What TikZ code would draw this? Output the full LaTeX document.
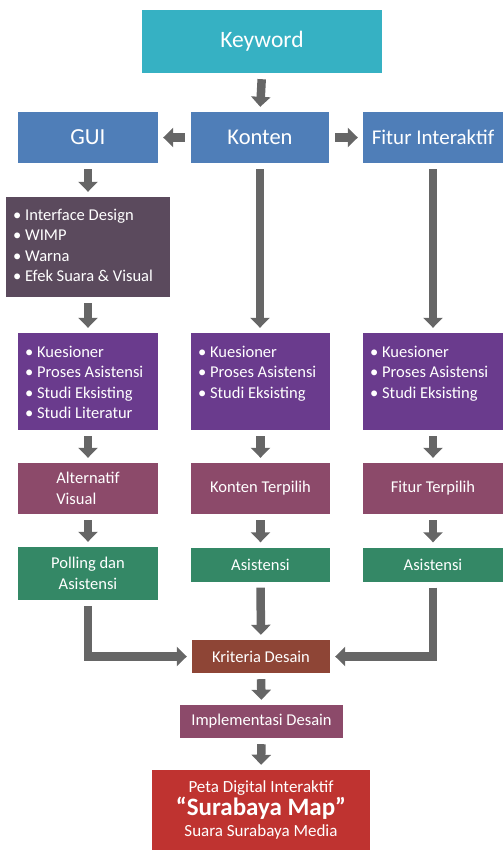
\documentclass[tikz,border=0pt]{standalone}
\usepackage{fontspec}
\setmainfont{Carlito}
\usetikzlibrary{arrows.meta,positioning}
\definecolor{cteal}{HTML}{36B1C3}
\definecolor{cblue}{HTML}{4F7EB8}
\definecolor{cdark}{HTML}{5B4A5D}
\definecolor{cpurple}{HTML}{6A3B8D}
\definecolor{cmag}{HTML}{8C4A6A}
\definecolor{cgreen}{HTML}{348866}
\definecolor{cbrown}{HTML}{8E4536}
\definecolor{cred}{HTML}{BF3330}
\definecolor{cgray}{HTML}{666666}
\tikzset{
  box/.style={rectangle, inner sep=0pt, text=white, align=center},
  blk/.style={draw=cgray, line width=8.5pt, line join=miter,
    -{Triangle[width=19pt,length=10pt]}, shorten <=6pt, shorten >=5pt},
  lst/.style={box, align=left, font=\fontsize{16.5}{20.5}\selectfont},
  mid/.style={font=\fontsize{16.5}{21}\selectfont}
}
\begin{document}
\begin{tikzpicture}[x=1pt,y=-1pt]
\useasboundingbox (0,0) rectangle (503,852);
% row 1
\node[box, fill=cteal, minimum width=240pt, minimum height=63pt, font=\fontsize{23.5}{26}\selectfont] (kw) at (262,41.5) {Keyword};
% row 2
\node[box, fill=cblue, minimum width=140pt, minimum height=51pt, font=\fontsize{23}{26}\selectfont] (gui) at (88,137.5) {GUI};
\node[box, fill=cblue, minimum width=138pt, minimum height=51pt, font=\fontsize{22.5}{26}\selectfont] (kon) at (260,137.5) {Konten};
\node[box, fill=cblue, minimum width=140pt, minimum height=51pt, font=\fontsize{21}{24}\selectfont] (fit) at (433,137.5) {Fitur Interaktif};
% GUI list
\node[box, fill=cdark, minimum width=164pt, minimum height=100pt] (gl) at (88,247) {};
\node[lst, anchor=north west] (glt) at (13,208.5) {\textbullet\ Interface Design\\\textbullet\ WIMP\\\textbullet\ Warna\\\textbullet\ Efek Suara \& Visual};
% purple row
\node[box, fill=cpurple, minimum width=140pt, minimum height=97pt] (p1) at (88,381.5) {};
\node[lst, anchor=north west] (p1t) at (25,345.5) {\textbullet\ Kuesioner\\\textbullet\ Proses Asistensi\\\textbullet\ Studi Eksisting\\\textbullet\ Studi Literatur};
\node[box, fill=cpurple, minimum width=139pt, minimum height=97pt] (p2) at (260.5,381.5) {};
\node[lst, anchor=north west] (p2t) at (198,345.5) {\textbullet\ Kuesioner\\\textbullet\ Proses Asistensi\\\textbullet\ Studi Eksisting};
\node[box, fill=cpurple, minimum width=140pt, minimum height=97pt] (p3) at (433,381.5) {};
\node[lst, anchor=north west] (p3t) at (370,345.5) {\textbullet\ Kuesioner\\\textbullet\ Proses Asistensi\\\textbullet\ Studi Eksisting};
% magenta row
\node[box, fill=cmag, minimum width=140pt, minimum height=51pt, align=left, mid] (m1) at (88,488.5) {Alternatif\\Visual};
\node[box, fill=cmag, minimum width=139pt, minimum height=51pt, mid] (m2) at (260.5,488.5) {Konten Terpilih};
\node[box, fill=cmag, minimum width=140pt, minimum height=51pt, mid] (m3) at (433,488.5) {Fitur Terpilih};
% green row
\node[box, fill=cgreen, minimum width=140pt, minimum height=53pt, mid] (g1) at (88,573.5) {Polling dan\\Asistensi};
\node[box, fill=cgreen, minimum width=139pt, minimum height=34pt, mid] (g2) at (260.5,564.5) {Asistensi};
\node[box, fill=cgreen, minimum width=140pt, minimum height=34pt, mid] (g3) at (433,564.5) {Asistensi};
% bottom
\node[box, fill=cbrown, minimum width=138pt, minimum height=33pt, mid] (kd) at (261,656.5) {Kriteria Desain};
\node[box, fill=cmag, minimum width=163pt, minimum height=33pt, mid] (im) at (261.5,721.5) {Implementasi Desain};
\node[box, fill=cred, minimum width=218pt, minimum height=80pt, font=\fontsize{17}{21}\selectfont] (fin) at (261,810) {Peta Digital Interaktif\\{\fontsize{25}{21}\selectfont\bfseries \textquotedblleft Surabaya Map\textquotedblright}\\Suara Surabaya Media};
% arrows
\draw[blk] (kw.south) -- (kon.north);
\draw[blk] (kon.west) -- (gui.east);
\draw[blk] (kon.east) -- (fit.west);
\draw[blk] (gui.south) -- (gl.north);
\draw[blk] (gl.south) -- (p1.north);
\draw[blk] (kon.south) -- (kon.south |- p2.north);
\draw[blk] (fit.south) -- (fit.south |- p3.north);
\draw[blk] (p1.south) -- (m1.north);
\draw[blk] (p2.south) -- (m2.north);
\draw[blk] (p3.south) -- (m3.north);
\draw[blk] (m1.south) -- (g1.north);
\draw[blk] (m2.south) -- (g2.north);
\draw[blk] (m3.south) -- (g3.north);
\draw[blk] (g1.south) -- (g1.south |- kd.west) -- (kd.west);
\draw[blk] (g2.south) -- (kd.north);
\draw[blk] (g3.south) -- (g3.south |- kd.east) -- (kd.east);
\draw[blk] (kd.south) -- (im.north);
\draw[blk] (im.south) -- (fin.north);
\end{tikzpicture}
\end{document}
